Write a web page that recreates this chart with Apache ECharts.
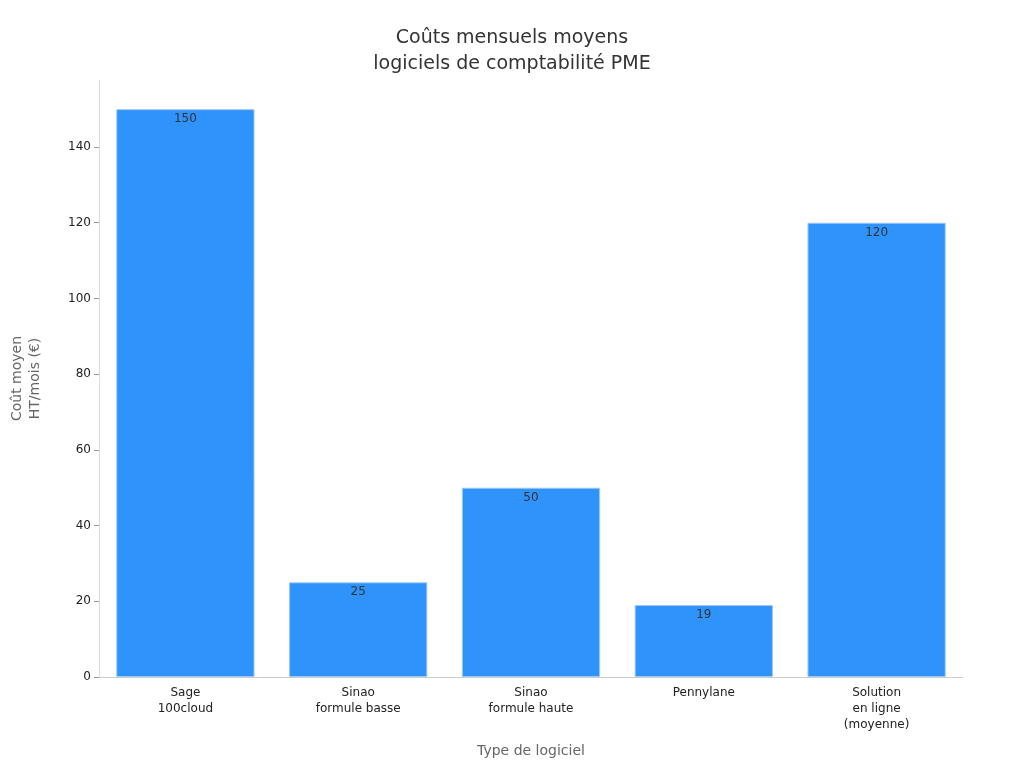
<!DOCTYPE html>
<html><head><meta charset="utf-8">
<script src="https://cdn.jsdelivr.net/npm/echarts@6/dist/echarts.min.js"></script>
<style>html,body{margin:0;padding:0;background:#fff}#c{width:1024px;height:768px}</style>
</head><body><div id="c"></div>
<script>
const categories = ["Sage\n100cloud","Sinao\nformule basse","Sinao\nformule haute","Pennylane","Solution\nen ligne\n(moyenne)"];
const values = [150, 25, 50, 19, 120];
const chart = echarts.init(document.getElementById('c'));
chart.setOption({
  animation:false,
  textStyle:{fontFamily:'DejaVu Sans'},
  title:{text:'Coûts mensuels moyens\nlogiciels de comptabilité PME',left:'center',top:20,
    textStyle:{fontSize:19,fontWeight:'normal',color:'#333',lineHeight:26,fontFamily:'DejaVu Sans'}},
  grid:{left:87,right:61,top:80,bottom:91},
  xAxis:{type:'category',data:categories,name:'Type de logiciel',nameLocation:'middle',nameGap:67,
    nameTextStyle:{fontSize:14,color:'#666'},
    axisLine:{lineStyle:{color:'#ccc'}},axisTick:{alignWithLabel:true,lineStyle:{color:'#999'}},
    axisLabel:{color:'#222',fontSize:12,lineHeight:16}},
  yAxis:{type:'value',min:0,max:157.7,interval:20,name:'Coût moyen\nHT/mois (€)',nameLocation:'middle',nameGap:55,
    nameTextStyle:{fontSize:14,color:'#666',lineHeight:18},
    axisLine:{show:true,lineStyle:{color:'#ddd'}},axisTick:{show:true,lineStyle:{color:'#999'}},
    splitLine:{show:false},axisLabel:{color:'#222',fontSize:12,showMaxLabel:false}},
  series:[{type:'bar',data:values,barWidth:'80%',
    itemStyle:{color:'#2E93FA',borderColor:'#9cc9f5',borderWidth:1},
    label:{show:true,position:'insideTop',color:'#333',fontSize:12,distance:4}}]
});
</script></body></html>
